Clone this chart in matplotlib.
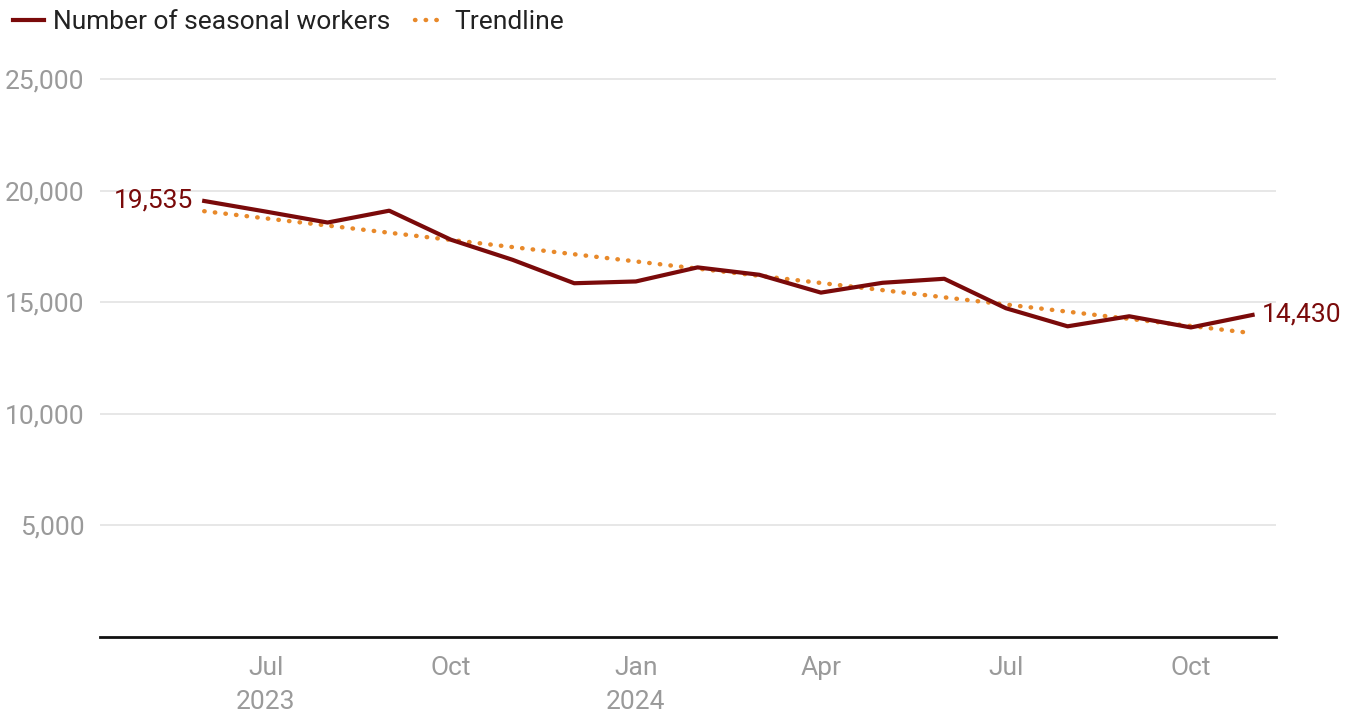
import numpy as np
import matplotlib.pyplot as plt

# monthly counts, Jun 2023 .. Nov 2024
months = ["Jun 2023", "Jul 2023", "Aug 2023", "Sep 2023", "Oct 2023", "Nov 2023",
          "Dec 2023", "Jan 2024", "Feb 2024", "Mar 2024", "Apr 2024", "May 2024",
          "Jun 2024", "Jul 2024", "Aug 2024", "Sep 2024", "Oct 2024", "Nov 2024"]
workers = [19535, 19060, 18570, 19100, 17800, 16900, 15850, 15930, 16560,
           16230, 15430, 15870, 16050, 14730, 13920, 14370, 13870, 14430]

tick_pos = [1, 4, 7, 10, 13, 16]
tick_labels = ["Jul\n2023", "Oct", "Jan\n2024", "Apr", "Jul", "Oct"]
y_ticks = [5000, 10000, 15000, 20000, 25000]

dark_red = "#7a0a0a"
orange = "#e8892a"
grey = "#9a9a9a"

plt.rcParams['font.family'] = ['Roboto', 'DejaVu Sans']

x = np.arange(len(workers))
slope, inter = np.polyfit(x, workers, 1)
trend = slope * x + inter

W, H = 1360, 712
fig = plt.figure(figsize=(W / 100, H / 100), dpi=100)
ax = fig.add_axes([100 / W, 1 - 637 / H, 1176 / W, 587 / H])

ax.plot(x, workers, color=dark_red, lw=3, label="Number of seasonal workers", zorder=3)
ax.plot(x, trend, color=orange, lw=3.2, ls=(0, (0.1, 2.3)), dash_capstyle="round",
        label="Trendline", zorder=2)

ax.set_xlim(-1.69, 17.38)
ax.set_ylim(0, 26300)

ax.set_yticks(y_ticks)
ax.set_yticklabels([f"{v:,}" for v in y_ticks])
ax.set_xticks(tick_pos)
ax.set_xticklabels(tick_labels, linespacing=1.5)
ax.tick_params(axis="y", length=0, labelsize=19, labelcolor=grey, pad=11)
ax.tick_params(axis="x", length=0, labelsize=19, labelcolor=grey, pad=14)

ax.grid(axis="y", color="#e3e3e3", lw=1.2)
ax.set_axisbelow(True)
for s in ["top", "right", "left"]:
    ax.spines[s].set_visible(False)
ax.spines["bottom"].set_color("#111111")
ax.spines["bottom"].set_linewidth(2)

# end labels
ax.annotate(f"{workers[0]:,}", (x[0], workers[0]), xytext=(-8, 0),
            textcoords="offset points", ha="right", va="center",
            color=dark_red, fontsize=19)
ax.annotate(f"{workers[-1]:,}", (x[-1], workers[-1]), xytext=(7, 0),
            textcoords="offset points", ha="left", va="center",
            color=dark_red, fontsize=19)

leg = fig.legend(loc="upper left", bbox_to_anchor=(0, 1.004), ncol=2, frameon=False,
                 fontsize=19, handlelength=1.15, handletextpad=0.35, columnspacing=0.95,
                 borderaxespad=0.1)
for t in leg.get_texts():
    t.set_color("#222222")

fig.savefig("out.png", dpi=100)
